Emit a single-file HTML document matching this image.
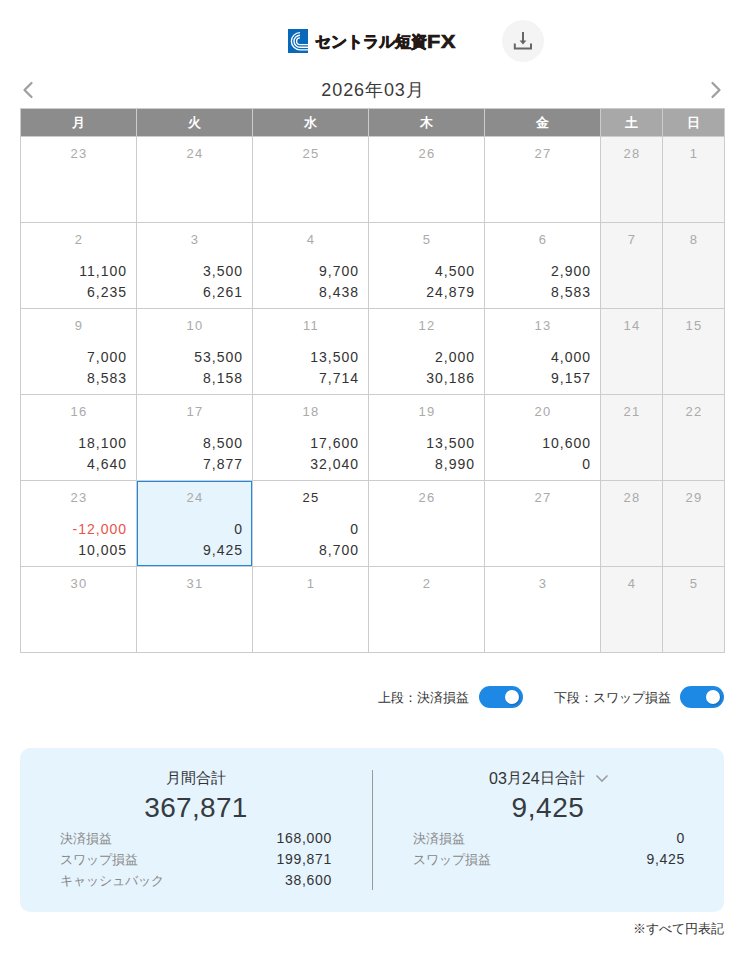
<!DOCTYPE html>
<html lang="ja"><head><meta charset="utf-8"><title>カレンダー</title>
<style>
*{margin:0;padding:0;box-sizing:border-box}
html,body{width:744px;height:957px;overflow:hidden;background:#fff}
body{position:relative;font-family:"Liberation Sans",sans-serif;color:#333}
.a{position:absolute}
.hl{position:absolute;height:1px;background:#cccccc}
.vl{position:absolute;width:1px;background:#cccccc}
.dn{position:absolute;font-size:13px;line-height:15px;color:#aaa;text-align:center;letter-spacing:1.2px;padding-left:1px}
.am{position:absolute;font-size:14px;line-height:15px;color:#333;text-align:right;letter-spacing:1px}
.hd{position:absolute;top:109px;height:27px;line-height:27px;font-size:13px;color:#fff;text-align:center;font-weight:bold}
.lab{position:absolute;font-size:13px;line-height:15px;color:#888}
.val{position:absolute;font-size:14px;line-height:15px;color:#333;text-align:right;letter-spacing:0.7px}
</style></head><body>

<div class="a" style="left:288px;top:29px;width:20px;height:24px;background:#0869bb;overflow:hidden">
<svg width="20" height="24" viewBox="0 0 20 24"><g fill="none" stroke="#fff" stroke-width="1.35">
<path d="M12 3.6 A8.6 8.6 0 0 0 12 20.8 H20"/><path d="M12 6.2 A6 6 0 0 0 12 18.2 H20"/><path d="M12 8.8 A3.4 3.4 0 0 0 12 15.6 H20"/>
</g></svg></div>
<div class="a" style="left:315px;top:32px;font-size:16px;line-height:20px;font-weight:bold;color:#231815;white-space:nowrap;-webkit-text-stroke:0.7px #231815">セントラル短資</div>
<div class="a" style="left:427px;top:31px;font-size:18px;line-height:22px;font-weight:bold;color:#231815;white-space:nowrap;letter-spacing:0.6px;transform:scaleX(1.2);transform-origin:0 0;-webkit-text-stroke:0.7px #231815">FX</div>

<div class="a" style="left:502px;top:20px;width:42px;height:42px;border-radius:50%;background:#f4f4f4"></div>
<svg class="a" style="left:0;top:0" width="744" height="110">
<g fill="none" stroke="#666" stroke-width="2"><path d="M523 32V42"/><path d="M514.8 43.5V48.6H531V43.5"/></g>
<path d="M519.6 40.6H526.4L523 44.6Z" fill="#666"/>
<g fill="none" stroke="#a0a0a0" stroke-width="2.3" stroke-linecap="round" stroke-linejoin="round">
<path d="M31.5 83L24.5 90L31.5 97"/><path d="M712.5 83L719.5 90L712.5 97"/></g>
</svg>
<div class="a" style="left:0;width:744px;top:80px;text-align:center;font-size:18px;line-height:21px;color:#3a3a3a;letter-spacing:0.9px;padding-left:2px">2026年03月</div>

<div class="a" style="left:21px;top:109px;width:115px;height:27px;background:#8c8c8c"></div>
<div class="a" style="left:137px;top:109px;width:115px;height:27px;background:#8c8c8c"></div>
<div class="a" style="left:253px;top:109px;width:115px;height:27px;background:#8c8c8c"></div>
<div class="a" style="left:369px;top:109px;width:115px;height:27px;background:#8c8c8c"></div>
<div class="a" style="left:485px;top:109px;width:115px;height:27px;background:#8c8c8c"></div>
<div class="a" style="left:601px;top:109px;width:61px;height:27px;background:#a8a8a8"></div>
<div class="a" style="left:663px;top:109px;width:61px;height:27px;background:#a8a8a8"></div>
<div class="a" style="left:601px;top:137px;width:61px;height:515px;background:#f5f5f5"></div>
<div class="a" style="left:663px;top:137px;width:61px;height:515px;background:#f5f5f5"></div>
<div class="a" style="left:137px;top:481px;width:115px;height:85px;border:1px solid #1e88e5;background:#e6f4fd"></div>
<div class="hl" style="left:20px;top:108px;width:705px"></div>
<div class="hl" style="left:20px;top:136px;width:705px"></div>
<div class="hl" style="left:20px;top:222px;width:705px"></div>
<div class="hl" style="left:20px;top:308px;width:705px"></div>
<div class="hl" style="left:20px;top:394px;width:705px"></div>
<div class="hl" style="left:20px;top:480px;width:705px"></div>
<div class="hl" style="left:20px;top:566px;width:705px"></div>
<div class="hl" style="left:20px;top:652px;width:705px"></div>
<div class="vl" style="left:20px;top:108px;height:545px"></div>
<div class="vl" style="left:136px;top:108px;height:545px"></div>
<div class="vl" style="left:252px;top:108px;height:545px"></div>
<div class="vl" style="left:368px;top:108px;height:545px"></div>
<div class="vl" style="left:484px;top:108px;height:545px"></div>
<div class="vl" style="left:600px;top:108px;height:545px"></div>
<div class="vl" style="left:662px;top:108px;height:545px"></div>
<div class="vl" style="left:724px;top:108px;height:545px"></div>
<div class="hd" style="left:21px;width:115px">月</div>
<div class="hd" style="left:137px;width:115px">火</div>
<div class="hd" style="left:253px;width:115px">水</div>
<div class="hd" style="left:369px;width:115px">木</div>
<div class="hd" style="left:485px;width:115px">金</div>
<div class="hd" style="left:601px;width:61px">土</div>
<div class="hd" style="left:663px;width:61px">日</div>
<div class="dn" style="left:21px;width:115px;top:146px;color:#aaa">23</div>
<div class="dn" style="left:137px;width:115px;top:146px;color:#aaa">24</div>
<div class="dn" style="left:253px;width:115px;top:146px;color:#aaa">25</div>
<div class="dn" style="left:369px;width:115px;top:146px;color:#aaa">26</div>
<div class="dn" style="left:485px;width:115px;top:146px;color:#aaa">27</div>
<div class="dn" style="left:601px;width:61px;top:146px;color:#aaa">28</div>
<div class="dn" style="left:663px;width:61px;top:146px;color:#aaa">1</div>
<div class="dn" style="left:21px;width:115px;top:232px;color:#aaa">2</div>
<div class="am" style="right:617px;top:264px;">11,100</div>
<div class="am" style="right:617px;top:285px">6,235</div>
<div class="dn" style="left:137px;width:115px;top:232px;color:#aaa">3</div>
<div class="am" style="right:501px;top:264px;">3,500</div>
<div class="am" style="right:501px;top:285px">6,261</div>
<div class="dn" style="left:253px;width:115px;top:232px;color:#aaa">4</div>
<div class="am" style="right:385px;top:264px;">9,700</div>
<div class="am" style="right:385px;top:285px">8,438</div>
<div class="dn" style="left:369px;width:115px;top:232px;color:#aaa">5</div>
<div class="am" style="right:269px;top:264px;">4,500</div>
<div class="am" style="right:269px;top:285px">24,879</div>
<div class="dn" style="left:485px;width:115px;top:232px;color:#aaa">6</div>
<div class="am" style="right:153px;top:264px;">2,900</div>
<div class="am" style="right:153px;top:285px">8,583</div>
<div class="dn" style="left:601px;width:61px;top:232px;color:#aaa">7</div>
<div class="dn" style="left:663px;width:61px;top:232px;color:#aaa">8</div>
<div class="dn" style="left:21px;width:115px;top:318px;color:#aaa">9</div>
<div class="am" style="right:617px;top:350px;">7,000</div>
<div class="am" style="right:617px;top:371px">8,583</div>
<div class="dn" style="left:137px;width:115px;top:318px;color:#aaa">10</div>
<div class="am" style="right:501px;top:350px;">53,500</div>
<div class="am" style="right:501px;top:371px">8,158</div>
<div class="dn" style="left:253px;width:115px;top:318px;color:#aaa">11</div>
<div class="am" style="right:385px;top:350px;">13,500</div>
<div class="am" style="right:385px;top:371px">7,714</div>
<div class="dn" style="left:369px;width:115px;top:318px;color:#aaa">12</div>
<div class="am" style="right:269px;top:350px;">2,000</div>
<div class="am" style="right:269px;top:371px">30,186</div>
<div class="dn" style="left:485px;width:115px;top:318px;color:#aaa">13</div>
<div class="am" style="right:153px;top:350px;">4,000</div>
<div class="am" style="right:153px;top:371px">9,157</div>
<div class="dn" style="left:601px;width:61px;top:318px;color:#aaa">14</div>
<div class="dn" style="left:663px;width:61px;top:318px;color:#aaa">15</div>
<div class="dn" style="left:21px;width:115px;top:404px;color:#aaa">16</div>
<div class="am" style="right:617px;top:436px;">18,100</div>
<div class="am" style="right:617px;top:457px">4,640</div>
<div class="dn" style="left:137px;width:115px;top:404px;color:#aaa">17</div>
<div class="am" style="right:501px;top:436px;">8,500</div>
<div class="am" style="right:501px;top:457px">7,877</div>
<div class="dn" style="left:253px;width:115px;top:404px;color:#aaa">18</div>
<div class="am" style="right:385px;top:436px;">17,600</div>
<div class="am" style="right:385px;top:457px">32,040</div>
<div class="dn" style="left:369px;width:115px;top:404px;color:#aaa">19</div>
<div class="am" style="right:269px;top:436px;">13,500</div>
<div class="am" style="right:269px;top:457px">8,990</div>
<div class="dn" style="left:485px;width:115px;top:404px;color:#aaa">20</div>
<div class="am" style="right:153px;top:436px;">10,600</div>
<div class="am" style="right:153px;top:457px">0</div>
<div class="dn" style="left:601px;width:61px;top:404px;color:#aaa">21</div>
<div class="dn" style="left:663px;width:61px;top:404px;color:#aaa">22</div>
<div class="dn" style="left:21px;width:115px;top:490px;color:#aaa">23</div>
<div class="am" style="right:617px;top:522px; color:#e8534a;">-12,000</div>
<div class="am" style="right:617px;top:543px">10,005</div>
<div class="dn" style="left:137px;width:115px;top:490px;color:#aaa">24</div>
<div class="am" style="right:501px;top:522px;">0</div>
<div class="am" style="right:501px;top:543px">9,425</div>
<div class="dn" style="left:253px;width:115px;top:490px;color:#333">25</div>
<div class="am" style="right:385px;top:522px;">0</div>
<div class="am" style="right:385px;top:543px">8,700</div>
<div class="dn" style="left:369px;width:115px;top:490px;color:#aaa">26</div>
<div class="dn" style="left:485px;width:115px;top:490px;color:#aaa">27</div>
<div class="dn" style="left:601px;width:61px;top:490px;color:#aaa">28</div>
<div class="dn" style="left:663px;width:61px;top:490px;color:#aaa">29</div>
<div class="dn" style="left:21px;width:115px;top:576px;color:#aaa">30</div>
<div class="dn" style="left:137px;width:115px;top:576px;color:#aaa">31</div>
<div class="dn" style="left:253px;width:115px;top:576px;color:#aaa">1</div>
<div class="dn" style="left:369px;width:115px;top:576px;color:#aaa">2</div>
<div class="dn" style="left:485px;width:115px;top:576px;color:#aaa">3</div>
<div class="dn" style="left:601px;width:61px;top:576px;color:#aaa">4</div>
<div class="dn" style="left:663px;width:61px;top:576px;color:#aaa">5</div>
<div class="a" style="right:275px;top:690px;font-size:13px;line-height:16px;color:#333;white-space:nowrap">上段：決済損益</div>
<div class="a" style="left:479px;top:686px;width:44px;height:22px;border-radius:11px;background:#1e88e5"></div><div class="a" style="left:505px;top:690px;width:14px;height:14px;border-radius:50%;background:#fff;box-shadow:1px 1px 2px rgba(0,0,0,0.25)"></div>
<div class="a" style="right:73px;top:690px;font-size:13px;line-height:16px;color:#333;white-space:nowrap">下段：スワップ損益</div>
<div class="a" style="left:680px;top:686px;width:44px;height:22px;border-radius:11px;background:#1e88e5"></div><div class="a" style="left:706px;top:690px;width:14px;height:14px;border-radius:50%;background:#fff;box-shadow:1px 1px 2px rgba(0,0,0,0.25)"></div>
<div class="a" style="left:20px;top:748px;width:704px;height:164px;border-radius:10px;background:#e6f4fe"></div>
<div class="a" style="left:372px;top:770px;width:1px;height:120px;background:#9a9a9a"></div>
<div class="a" style="left:20px;width:352px;top:768px;text-align:center;font-size:15px;line-height:19px;color:#333">月間合計</div>
<div class="a" style="left:20px;width:352px;top:792px;text-align:center;font-size:28px;line-height:32px;color:#363b40;letter-spacing:0.3px">367,871</div>
<div class="a" style="left:489px;top:768px;font-size:15px;line-height:19px;color:#333;white-space:nowrap;letter-spacing:0px"><span style="font-size:16px;position:relative;top:1px">03</span>月<span style="font-size:16px;position:relative;top:1px">24</span>日合計</div>
<svg class="a" style="left:590px;top:768px" width="24" height="20"><path d="M6.5 7.5L12 13L17.5 7.5" fill="none" stroke="#9e9e9e" stroke-width="1.6"/></svg>
<div class="a" style="left:372px;width:352px;top:792px;text-align:center;font-size:28px;line-height:32px;color:#363b40;letter-spacing:0.6px">9,425</div>
<div class="lab" style="left:60px;top:831px">決済損益</div>
<div class="val" style="right:412px;top:831px">168,000</div>
<div class="lab" style="left:60px;top:852px">スワップ損益</div>
<div class="val" style="right:412px;top:852px">199,871</div>
<div class="lab" style="left:60px;top:873px">キャッシュバック</div>
<div class="val" style="right:412px;top:873px">38,600</div>
<div class="lab" style="left:413px;top:831px">決済損益</div>
<div class="val" style="right:59px;top:831px">0</div>
<div class="lab" style="left:413px;top:852px">スワップ損益</div>
<div class="val" style="right:59px;top:852px">9,425</div>
<div class="a" style="right:20px;top:921px;font-size:12.7px;line-height:16px;color:#333;white-space:nowrap">※すべて円表記</div>
</body></html>
